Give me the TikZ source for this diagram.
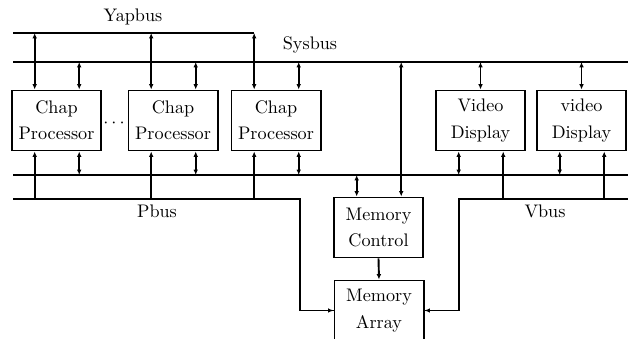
\documentclass[tikz,border=0pt]{standalone}
\usepackage{tikz}
\usetikzlibrary{arrows.meta,calc,positioning}

\tikzset{
  unit/.style={draw,line width=1.05pt,minimum width=49pt,minimum height=33pt,
    inner sep=1pt,align=center,font=\fontsize{10}{14.5}\selectfont},
  bus/.style={line width=1.05pt},
  io/.style={line width=1.05pt,{Latex[length=3pt,width=2.6pt]}-{Latex[length=3pt,width=2.6pt]}},
  tobox/.style={line width=1.05pt,-{Latex[length=3pt,width=2.6pt]}},
  buslabel/.style={font=\normalsize}
}

\begin{document}
\begin{tikzpicture}[x=0.55pt,y=-0.55pt]
  \useasboundingbox (0,0) rectangle (628,339);

  % units
  \node[unit] (p1) at (56.5,120.5) {Chap\\Processor};
  \node[unit] (p2) at (173,120.5) {Chap\\Processor};
  \node[unit] (p3) at (276,120.5) {Chap\\Processor};
  \node[unit] (v1) at (480.5,120.5) {Video\\Display};
  \node[unit] (v2) at (581.5,120.5) {video\\Display};
  \node[unit] (mc) at (378.5,227.5) {Memory\\Control};
  \node[unit] (ma) at (379,310.5) {Memory\\Array};
  \node (dots) at (114,123) {$\cdots$};

  \foreach \n in {p1,p2,p3,v1,v2,mc} {
    \coordinate (\n L) at ([xshift=-12pt]\n.center);
    \coordinate (\n R) at ([xshift=12.5pt]\n.center);
  }

  % buses
  \coordinate (yapW) at (13,33);
  \coordinate (sysW) at (13,62);
  \coordinate (sysE) at (628,62);
  \coordinate (midW) at (13,175);
  \coordinate (midE) at (628,175);
  \coordinate (pbW) at (13,199);
  \coordinate (pbE) at (300,199);
  \coordinate (vbE) at (628,199);
  \coordinate (vbW) at (459,199);
  \draw[bus] (yapW) -- (p3L |- yapW);
  \draw[bus] (sysW) -- (sysE);
  \draw[bus] (midW) -- (midE);
  \draw[bus] (pbW) -- (pbE) |- (ma.west);
  \draw[bus] (vbE) -- (vbW) |- (ma.east);
  \draw[tobox] (pbE |- ma.west) -- (ma.west);
  \draw[tobox] (vbW |- ma.east) -- (ma.east);

  \node[buslabel] (yapbus) at (133,17) {Yapbus};
  \node[buslabel] (sysbus) at (310,45) {Sysbus};
  \node[buslabel] (pbus) at (157,211) {Pbus};
  \node[buslabel] (vbus) at (545,211) {Vbus};

  % processors
  \foreach \n in {p1,p2,p3} {
    \draw[io] (\n L |- yapW) -- (\n L |- \n.north);
    \draw[io] (\n R |- sysW) -- (\n R |- \n.north);
    \draw[tobox] (\n L |- pbW) -- (\n L |- \n.south);
    \draw[io] (\n R |- midW) -- (\n R |- \n.south);
  }

  % video displays
  \foreach \n in {v1,v2} {
    \draw[io] (\n.center |- sysW) -- (\n.north);
    \draw[io] (\n L |- midW) -- (\n L |- \n.south);
    \draw[tobox] (\n R |- vbW) -- (\n R |- \n.south);
  }

  % memory
  \draw[io] (mcR |- sysW) -- (mcR |- mc.north);
  \draw[io] (mcL |- midW) -- (mcL |- mc.north);
  \draw[tobox] (mc.south) -- (ma.north);
\end{tikzpicture}
\end{document}
